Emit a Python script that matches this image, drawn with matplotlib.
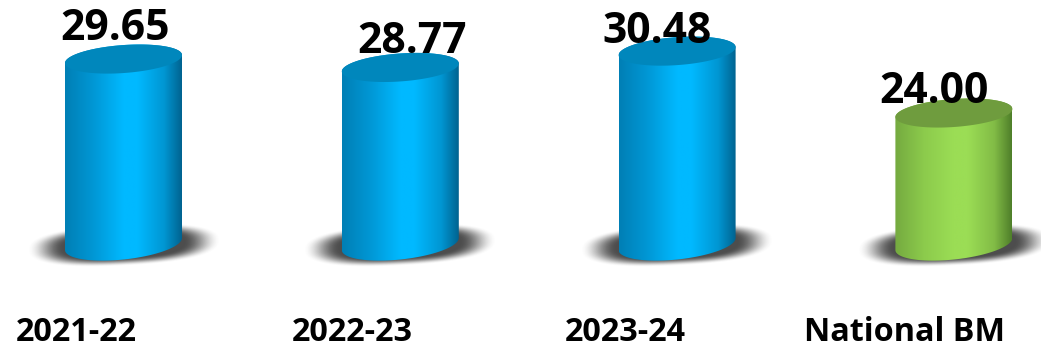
import numpy as np
import matplotlib
matplotlib.use("Agg")
import matplotlib.pyplot as plt
from matplotlib.colors import LinearSegmentedColormap
from matplotlib.patches import Polygon

categories = ["2021-22", "2022-23", "2023-24", "National BM"]
values = [29.65, 28.77, 30.48, 24.00]
value_labels = ["29.65", "28.77", "30.48", "24.00"]

# Per-series cylinder styling
blue_body = ["#007FB5", "#0098D6", "#00B9FF", "#00B9FF", "#0096D2", "#006390"]
green_body = ["#75AA40", "#8CCB4C", "#9BDD55", "#9BDD55", "#82BC46", "#4F7F2A"]
body_stops = [0.0, 0.25, 0.5, 0.62, 0.85, 1.0]
styles = [
    (blue_body, "#0087BC"),
    (blue_body, "#0087BC"),
    (blue_body, "#0087BC"),
    (green_body, "#6F9C3E"),
]

# Label offsets from each bar's top centre, in pixels
label_dx = [-8, 12, -20, -20]
label_dy = [19, 14.5, 8, 10]
cat_x_px = [76, 352, 625, 905]

W, H = 1041, 348
PX_X = 276.8          # pixels per category
PX_Y = 9.55           # pixels per value unit
BASE = 10.28          # value at the cylinder base
x0_px, y_ref_px, y_ref_val = 123.5, 113.0, 24.0

fig = plt.figure(figsize=(W / 100, H / 100), dpi=100)
ax = fig.add_axes([0, 0, 1, 1])
ax.set_xlim(-x0_px / PX_X, (W - x0_px) / PX_X)
ax.set_ylim(y_ref_val - (H - y_ref_px) / PX_Y, y_ref_val + y_ref_px / PX_Y)
ax.axis("off")

HALF_W = 58.5 / PX_X


def ellipse(cx, cy, b_px, tilt_px, t):
    """Sheared ellipse: left end lower, right end higher."""
    return (cx + HALF_W * np.cos(t),
            cy + (b_px * np.sin(t) + tilt_px * np.cos(t)) / PX_Y)


def shadow(ax, cx):
    """Soft rounded contact shadow under a cylinder."""
    nx, ny = 320, 100
    xs = np.linspace(-115, 115, nx)
    ys = np.linspace(-35, 35, ny)
    X, Y = np.meshgrid(xs, ys)
    Yt = Y - 0.05 * X
    p = 2.5
    r = ((np.abs(X) / 97) ** p + (np.abs(Yt) / 21) ** p) ** (1 / p)
    a = np.clip((1.0 - r) / 0.38, 0, 1)
    a = a * a * (3 - 2 * a) * 0.85
    rgba = np.zeros((ny, nx, 4))
    rgba[..., :3] = 0.18
    rgba[..., 3] = a
    cy = BASE - 1 / PX_Y
    ax.imshow(rgba, extent=(cx + xs[0] / PX_X, cx + xs[-1] / PX_X,
                            cy + ys[0] / PX_Y, cy + ys[-1] / PX_Y),
              origin="lower", aspect="auto", interpolation="bilinear", zorder=1)


for i, (v, (body, top)) in enumerate(zip(values, styles)):
    shadow(ax, i)

    t_low = np.linspace(np.pi, 2 * np.pi, 80)
    bx, by = ellipse(i, BASE, 15.5, 6, t_low)
    t_up = np.linspace(0, np.pi, 80)
    tx, ty = ellipse(i, v, 14, 4, t_up)
    outline = np.column_stack([np.r_[bx, tx], np.r_[by, ty]])

    cmap = LinearSegmentedColormap.from_list("body", list(zip(body_stops, body)))
    grad = np.linspace(0, 1, 256).reshape(1, -1)
    im = ax.imshow(grad, cmap=cmap, extent=(i - HALF_W, i + HALF_W, BASE - 3, v + 3),
                   aspect="auto", zorder=2)
    clip = Polygon(outline, closed=True, transform=ax.transData, fc="none", ec="none")
    ax.add_patch(clip)
    im.set_clip_path(clip)

    t_full = np.linspace(0, 2 * np.pi, 160)
    ex, ey = ellipse(i, v, 14, 4, t_full)
    ax.fill(ex, ey, color=top, lw=0, zorder=3)

    ax.annotate(value_labels[i], (i, v), xytext=(label_dx[i] * 0.72, label_dy[i] * 0.72),
                textcoords="offset points", ha="center", va="baseline",
                fontsize=30.7, fontweight="bold", family="Open Sans", color="black", zorder=5)

    ax.text(cat_x_px[i] / W, 1 - 341 / H, categories[i], transform=ax.transAxes,
            ha="center", va="baseline", fontsize=23.3, fontweight="bold",
            family="Open Sans", color="black", zorder=5)

ax.set_xlim(-x0_px / PX_X, (W - x0_px) / PX_X)
ax.set_ylim(y_ref_val - (H - y_ref_px) / PX_Y, y_ref_val + y_ref_px / PX_Y)
fig.savefig("out.png", dpi=100, facecolor="white")
